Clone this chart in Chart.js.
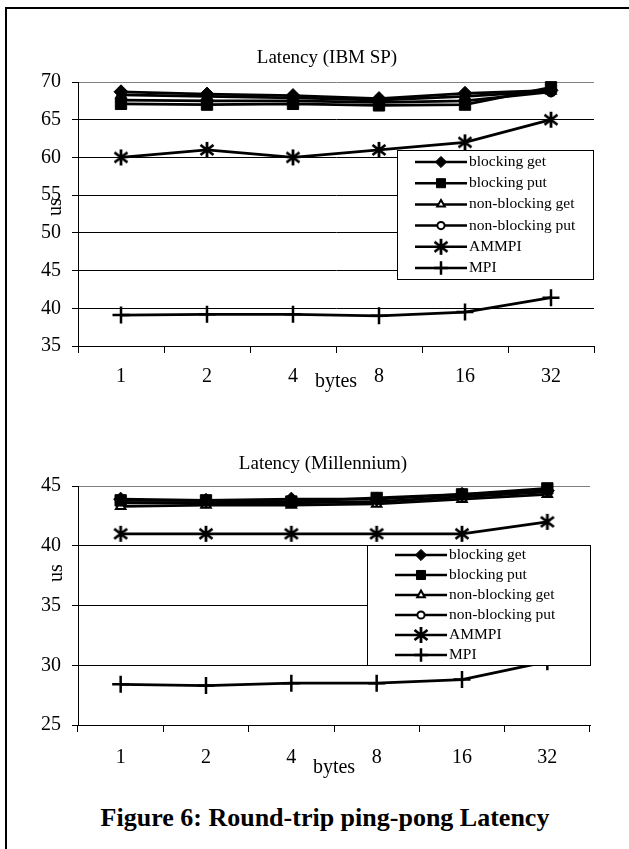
<!DOCTYPE html>
<html><head><meta charset="utf-8">
<script src="https://cdn.jsdelivr.net/npm/chart.js@4/dist/chart.umd.min.js"></script>
<style>
html,body{margin:0;padding:0;background:#fff;}
body{width:629px;height:849px;position:relative;overflow:hidden;font-family:"Liberation Serif","Times New Roman",serif;}
#frame{position:absolute;left:5px;top:7px;width:700px;height:900px;border-left:2px solid #000;border-top:2px solid #000;}
#c1{position:absolute;left:0;top:0;}
#c2{position:absolute;left:0;top:400px;}
#caption{position:absolute;left:0;width:650px;top:803px;line-height:30px;text-align:center;font-weight:bold;font-size:26px;color:#000;}
</style></head><body>
<div id="frame"></div>
<canvas id="c1" width="629" height="400"></canvas>
<canvas id="c2" width="629" height="400"></canvas>
<div id="caption">Figure 6: Round-trip ping-pong Latency</div>
<script>
// ---- data ----
const categories = ['1', '2', '4', '8', '16', '32'];
const seriesNames = ['blocking get', 'blocking put', 'non-blocking get', 'non-blocking put', 'AMMPI', 'MPI'];

const ibmBlockingGet    = [68.7, 68.4, 68.2, 67.8, 68.5, 68.9];
const ibmBlockingPut    = [67.1, 67.0, 67.1, 66.9, 67.0, 69.3];
const ibmNonBlockingGet = [68.3, 68.1, 67.9, 67.6, 68.1, 68.8];
const ibmNonBlockingPut = [67.6, 67.5, 67.5, 67.3, 67.5, 68.7];
const ibmAMMPI          = [60, 61, 60, 61, 62, 65];
const ibmMPI            = [39.1, 39.2, 39.2, 39.0, 39.5, 41.4];

const milBlockingGet    = [43.9, 43.8, 43.9, 43.9, 44.3, 44.6];
const milBlockingPut    = [43.8, 43.8, 43.7, 44.0, 44.3, 44.8];
const milNonBlockingGet = [43.3, 43.4, 43.4, 43.5, 43.9, 44.3];
const milNonBlockingPut = [43.6, 43.6, 43.6, 43.7, 44.1, 44.5];
const milAMMPI          = [41, 41, 41, 41, 41, 42];
const milMPI            = [28.4, 28.3, 28.5, 28.5, 28.8, 30.3];

const ibmYTicks = [35, 40, 45, 50, 55, 60, 65, 70];
const milYTicks = [25, 30, 35, 40, 45];

// ---- styles ----
const FONT = '"Liberation Serif", "Times New Roman", serif';

function makeAsterisk() {
  const c = document.createElement('canvas');
  c.width = 18; c.height = 18;
  const g = c.getContext('2d');
  g.strokeStyle = '#000'; g.lineWidth = 2.8;
  g.beginPath();
  g.moveTo(9, 1); g.lineTo(9, 17);
  g.moveTo(2.5, 4); g.lineTo(15.5, 14);
  g.moveTo(15.5, 4); g.lineTo(2.5, 14);
  g.stroke();
  return c;
}
const asterisk = makeAsterisk();

const markerStyles = [
  { pointStyle: 'rectRot', radius: 7, bg: '#000', bw: 1 },
  { pointStyle: 'rect', radius: 8, bg: '#000', bw: 1 },
  { pointStyle: 'triangle', radius: 5.5, bg: '#fff', bw: 2 },
  { pointStyle: 'circle', radius: 4.5, bg: '#fff', bw: 2 },
  { pointStyle: asterisk, radius: 8, bg: '#000', bw: 1 },
  { pointStyle: 'cross', radius: 8.5, bg: '#000', bw: 2.5 }
];

function buildDatasets(seriesList) {
  return seriesList.map((vals, i) => ({
    label: seriesNames[i],
    data: vals,
    borderColor: '#000',
    borderWidth: 2.8,
    tension: 0,
    fill: false,
    clip: false,
    pointStyle: markerStyles[i].pointStyle,
    pointRadius: markerStyles[i].radius,
    pointBackgroundColor: markerStyles[i].bg,
    pointBorderColor: '#000',
    pointBorderWidth: markerStyles[i].bw
  }));
}

const boxLegend = {
  id: 'boxLegend',
  afterLayout(chart, args, o) {
    const t = chart.titleBlock;
    if (t && o.titleCX) { t.left = 2 * o.titleCX - t.right; }
  },
  afterDraw(chart, args, o) {
    const ctx = chart.ctx;
    ctx.save();
    // y-axis title "us"
    ctx.fillStyle = '#000';
    ctx.font = '20px ' + FONT;
    ctx.textAlign = 'center';
    ctx.textBaseline = 'middle';
    ctx.translate(o.usX, o.usY);
    ctx.rotate(-Math.PI / 2);
    ctx.fillText('us', 0, 0);
    ctx.setTransform(1, 0, 0, 1, 0, 0);
    // legend box
    ctx.fillStyle = '#fff';
    ctx.fillRect(o.x, o.y, o.w, o.h);
    ctx.strokeStyle = '#000';
    ctx.lineWidth = 1;
    ctx.strokeRect(o.x + 0.5, o.y + 0.5, o.w, o.h);
    chart.data.datasets.forEach((ds, i) => {
      const y = o.y + o.firstRow + i * o.rowH;
      ctx.strokeStyle = '#000';
      ctx.lineWidth = 2.5;
      ctx.beginPath();
      ctx.moveTo(o.x0, y); ctx.lineTo(o.x1, y);
      ctx.stroke();
      ctx.fillStyle = ds.pointBackgroundColor;
      ctx.strokeStyle = '#000';
      ctx.lineWidth = ds.pointBorderWidth;
      Chart.helpers.drawPoint(ctx, {
        pointStyle: ds.pointStyle, radius: ds.pointRadius * 0.8,
        rotation: 0, borderWidth: ds.pointBorderWidth
      }, (o.x0 + o.x1) / 2, y);
      ctx.fillStyle = '#000';
      ctx.font = o.fontSize + 'px ' + FONT;
      ctx.textAlign = 'left';
      ctx.textBaseline = 'middle';
      ctx.fillText(ds.label, o.textX, y);
    });
    ctx.restore();
  }
};

function makeChart(id, cfg) {
  const yTicks = cfg.yTicks;
  return new Chart(document.getElementById(id), {
    type: 'line',
    data: { labels: categories, datasets: buildDatasets(cfg.series) },
    plugins: [boxLegend],
    options: {
      responsive: false,
      animation: false,
      layout: { padding: { top: cfg.padTop, left: 0, right: cfg.padRight, bottom: 0 } },
      plugins: {
        legend: { display: false },
        tooltip: { enabled: false },
        title: {
          display: true, text: cfg.title, color: '#000',
          font: { family: FONT, size: 19, weight: 'normal' },
          padding: { top: 0, bottom: cfg.titleGap }
        },
        boxLegend: cfg.legend
      },
      scales: {
        x: {
          type: 'category',
          offset: true,
          afterFit: (s) => { s.height = cfg.xHeight; },
          grid: {
            offset: true,
            drawOnChartArea: true,
            drawTicks: true,
            tickLength: 7,
            lineWidth: 1,
            color: (c) => c.index === categories.length ? '#808080' : 'rgba(0,0,0,0)',
            tickColor: '#000'
          },
          border: { display: true, color: '#000', width: 1 },
          ticks: { color: '#000', font: { family: FONT, size: 20 }, padding: cfg.xTickPad, maxRotation: 0, autoSkip: false },
          title: {
            display: true, text: 'bytes', color: '#000',
            font: { family: FONT, size: 20 },
            padding: { top: 0, bottom: cfg.bytesPad }
          }
        },
        y: {
          min: yTicks[0],
          max: yTicks[yTicks.length - 1],
          afterFit: (s) => { s.width = cfg.yWidth; },
          ticks: { stepSize: yTicks[1] - yTicks[0], color: '#000', font: { family: FONT, size: 20 }, padding: 11 },
          grid: {
            lineWidth: 1,
            drawTicks: true,
            tickLength: 6,
            color: (c) => (c.tick && c.tick.value === yTicks[yTicks.length - 1]) ? '#808080' : '#000',
            tickColor: '#000'
          },
          border: { display: true, color: '#000', width: 1 }
        }
      }
    }
  });
}

makeChart('c1', {
  title: 'Latency (IBM SP)',
  series: [ibmBlockingGet, ibmBlockingPut, ibmNonBlockingGet, ibmNonBlockingPut, ibmAMMPI, ibmMPI],
  yTicks: ibmYTicks,
  padTop: 46.6, titleGap: 12.6, padRight: 35, yWidth: 78,
  xHeight: 54, xTickPad: 12, bytesPad: 6,
  legend: { titleCX: 327, x: 397, y: 150, w: 196, h: 129, firstRow: 12, rowH: 21.2, x0: 415, x1: 467, textX: 469, fontSize: 15.5, usX: 56, usY: 207 }
});

makeChart('c2', {
  title: 'Latency (Millennium)',
  series: [milBlockingGet, milBlockingPut, milNonBlockingGet, milNonBlockingPut, milAMMPI, milMPI],
  yTicks: milYTicks,
  padTop: 52.6, titleGap: 10.6, padRight: 39, yWidth: 78,
  xHeight: 75, xTickPad: 14, bytesPad: 20,
  legend: { titleCX: 323, x: 367, y: 145, w: 223, h: 120, firstRow: 10, rowH: 20, x0: 395, x1: 447, textX: 449, fontSize: 15.5, usX: 57, usY: 173 }
});
</script>
</body></html>
